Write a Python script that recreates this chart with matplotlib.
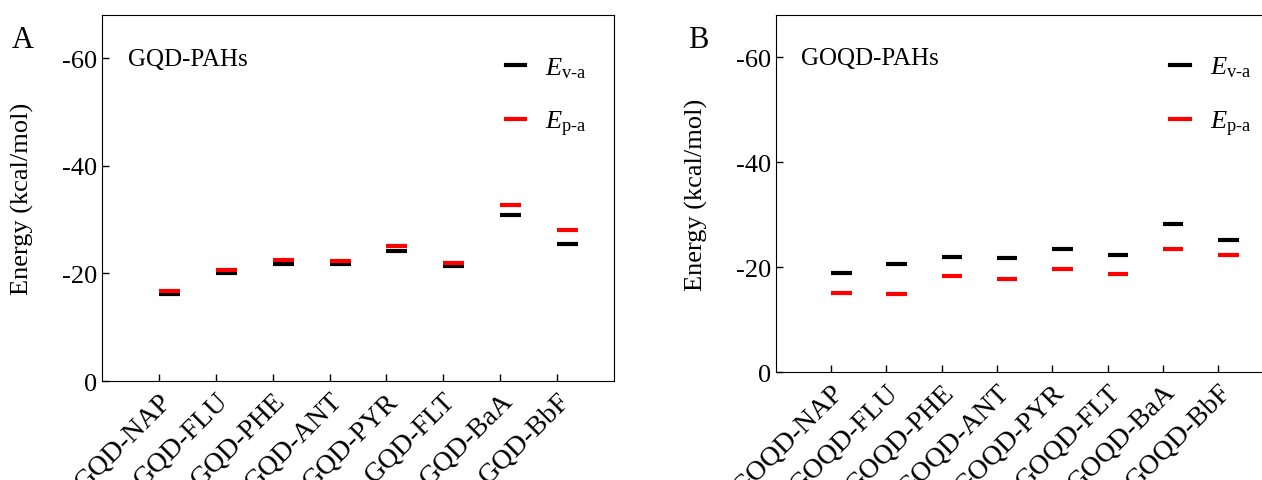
import matplotlib
matplotlib.use('Agg')
import matplotlib.pyplot as plt
from matplotlib.lines import Line2D

plt.rcParams['font.family'] = ['Liberation Serif', 'DejaVu Serif']
plt.rcParams['mathtext.fontset'] = 'custom'
plt.rcParams['mathtext.rm'] = 'Liberation Serif'
plt.rcParams['mathtext.it'] = 'Liberation Serif:italic'
plt.rcParams['axes.unicode_minus'] = False

# data (kcal/mol)
pahs = ['NAP', 'FLU', 'PHE', 'ANT', 'PYR', 'FLT', 'BaA', 'BbF']
gqd_labels = ['GQD-' + p for p in pahs]
goqd_labels = ['GOQD-' + p for p in pahs]

gqd_eva = [-16.2, -20.0, -21.7, -21.7, -24.1, -21.4, -30.9, -25.4]
gqd_epa = [-16.8, -20.7, -22.4, -22.3, -25.0, -22.0, -32.7, -28.1]
goqd_eva = [-18.8, -20.5, -22.0, -21.8, -23.4, -22.3, -28.1, -25.1]
goqd_epa = [-15.1, -14.9, -18.2, -17.8, -19.6, -18.7, -23.5, -22.2]

fig = plt.figure(figsize=(12.62, 4.81), dpi=100)
axA = fig.add_axes([0.0808, 0.2058, 0.4057, 0.7609])
axB = fig.add_axes([0.6147, 0.2245, 0.3944, 0.7422])

bar_w = 0.37


def draw(ax, labels, eva, epa, title, leg_x):
    x = list(range(1, len(labels) + 1))
    ax.hlines(eva, x, [i + bar_w for i in x], colors='black', lw=3, zorder=2)
    ax.hlines(epa, x, [i + bar_w for i in x], colors='red', lw=3, zorder=3)
    ax.set_xlim(0, 9)
    ax.set_ylim(0, -68)
    ax.set_yticks([0, -20, -40, -60])
    ax.set_xticks(x)
    ax.set_xticklabels(labels, rotation=45, ha='right', rotation_mode='anchor')
    ax.tick_params(direction='in', labelsize=19, width=1, length=5)
    ax.tick_params(axis='x', pad=5, labelsize=20)
    ax.set_ylabel('Energy (kcal/mol)', fontsize=19, labelpad=20)
    ax.text(0.05, 0.88, title, transform=ax.transAxes, fontsize=18, va='center')
    handles = [Line2D([], [], color='black', lw=3), Line2D([], [], color='red', lw=3)]
    ax.legend(handles, [r'$E_{\text{v-a}}$', r'$E_{\text{p-a}}$'],
              loc='upper left', bbox_to_anchor=(leg_x, 0.955), frameon=False,
              fontsize=19, handlelength=0.75, handletextpad=0.75, labelspacing=1.1)


draw(axA, gqd_labels, gqd_eva, gqd_epa, 'GQD-PAHs', 0.742)
draw(axB, goqd_labels, goqd_eva, goqd_epa, 'GOQD-PAHs', 0.745)

fig.text(0.009, 0.90, 'A', fontsize=22)
fig.text(0.545, 0.90, 'B', fontsize=22)

fig.savefig('out.png', dpi=100)
